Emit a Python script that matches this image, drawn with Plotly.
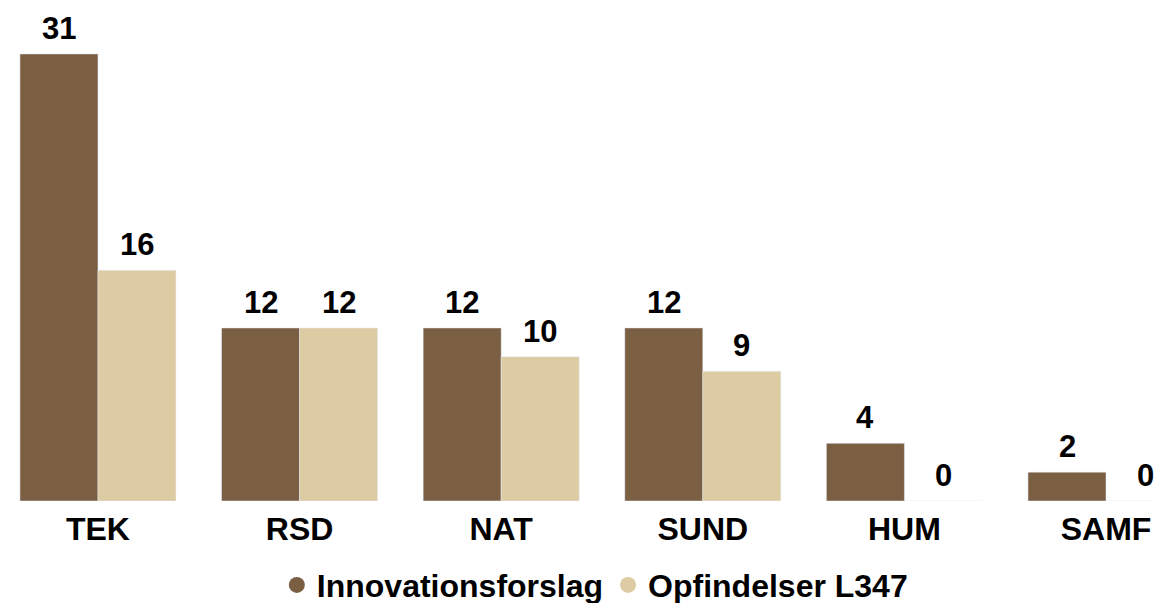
import plotly.graph_objects as go

categories = ["TEK", "RSD", "NAT", "SUND", "HUM", "SAMF"]
innovations = [31, 12, 12, 12, 4, 2]
inventions = [16, 12, 10, 9, 0, 0]
series_names = ["Innovationsforslag", "Opfindelser L347"]
colors = ["#7B5F43", "#DDCCA3"]

FONT = "Liberation Sans, Arial, sans-serif"

fig = go.Figure()
for vals, name, col in zip([innovations, inventions], series_names, colors):
    fig.add_trace(go.Bar(x=categories, y=vals, name=name, marker_color=col,
                         showlegend=False))
    fig.add_trace(go.Scatter(x=[None], y=[None], mode="markers", name=f"<b>{name}</b>",
                             marker=dict(symbol="circle", size=18, color=col)))

annotations = []
for vals, shift in zip([innovations, inventions], [-39, 39]):
    for c, v in zip(categories, vals):
        annotations.append(dict(x=c, y=v, xref="x", yref="y", text=f"<b>{v}</b>",
                                showarrow=False, xshift=shift, yanchor="bottom",
                                yshift=6, font=dict(size=31, color="black", family=FONT)))

fig.update_layout(
    width=1155, height=603,
    margin=dict(l=0, r=0, t=0, b=102, autoexpand=False),
    barmode="group", bargap=0.226, bargroupgap=0,
    plot_bgcolor="white", paper_bgcolor="white",
    font=dict(family=FONT, size=31, color="black"),
    xaxis=dict(range=[-0.486, 5.243], showgrid=False, zeroline=False, showline=False,
               ticks="", tickfont=dict(size=32, family=FONT, color="black"),
               tickprefix="<b>", ticksuffix="</b>", ticklabelstandoff=6),
    yaxis=dict(range=[0, 34.74], visible=False),
    legend=dict(orientation="h", x=0.515, xanchor="center", y=-0.168, yanchor="middle",
                font=dict(size=32, family=FONT, color="black"), itemwidth=30,
                traceorder="normal"),
    annotations=annotations,
)
fig.write_html("out.html", config={"displayModeBar": False})

with open("out.html", "r", encoding="utf-8") as f:
    html = f.read()
html = html.replace("<body>", '<body style="margin:0;overflow:hidden">', 1)
with open("out.html", "w", encoding="utf-8") as f:
    f.write(html)
